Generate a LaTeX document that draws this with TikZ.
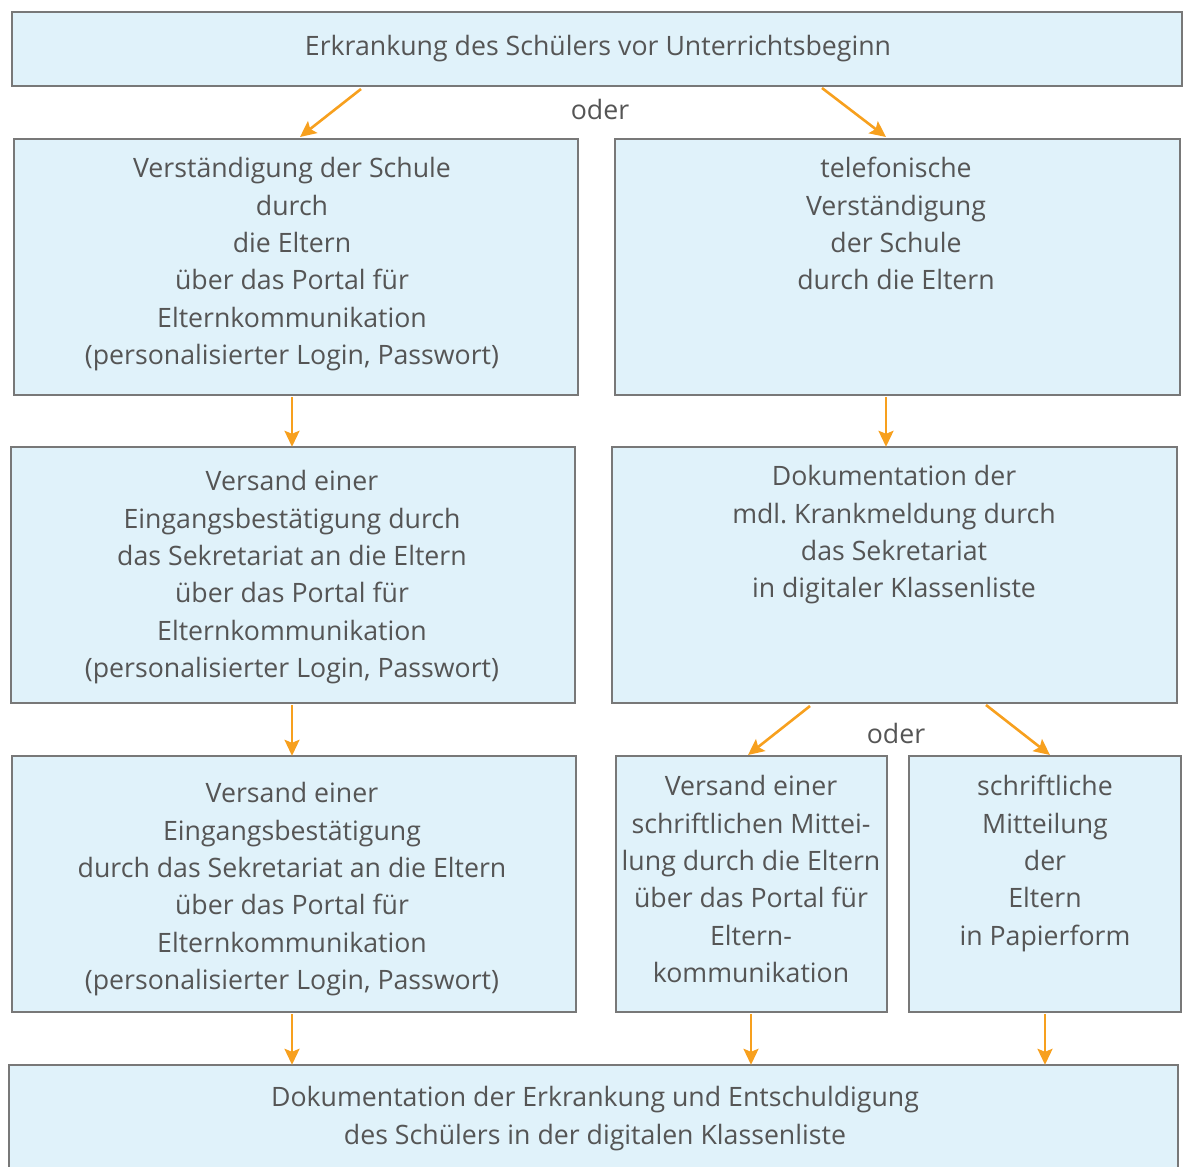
\documentclass[tikz,border=0pt]{standalone}
\usepackage{fontspec}
\setmainfont{Open Sans}
\usetikzlibrary{arrows.meta,calc}
\definecolor{boxfill}{RGB}{224,242,250}
\definecolor{boxline}{RGB}{120,120,120}
\definecolor{txtgray}{RGB}{85,85,85}
\definecolor{arrorange}{RGB}{247,160,30}
\frenchspacing
\begin{document}
\begin{tikzpicture}[x=1pt,y=-1pt,
  boxnode/.style={draw=boxline, fill=boxfill, line width=1.4pt, inner sep=0pt},
  txt/.style={anchor=north, align=center, inner sep=0pt, text=txtgray, font=\fontsize{26.7}{37.4}\selectfont},
  arr/.style={draw=arrorange, line width=2.6pt, -{Stealth[length=16pt,width=15pt,inset=3pt]}}]
\useasboundingbox (0,0) rectangle (1186,1167);
\clip (0,0) rectangle (1186,1167);
% boxes
\path[boxnode] (12,12) rectangle (1182,86);
\node[inner sep=0pt, minimum width=1170pt, minimum height=74pt] (top) at (597,49) {};
\path[boxnode] (14,139) rectangle (578,395);
\node[inner sep=0pt, minimum width=564pt, minimum height=256pt] (l1) at (296,267) {};
\path[boxnode] (615,139) rectangle (1180,395);
\node[inner sep=0pt, minimum width=565pt, minimum height=256pt] (r1) at (897.5,267) {};
\path[boxnode] (11,447) rectangle (575,703);
\node[inner sep=0pt, minimum width=564pt, minimum height=256pt] (l2) at (293,575) {};
\path[boxnode] (612,447) rectangle (1177,703);
\node[inner sep=0pt, minimum width=565pt, minimum height=256pt] (r2) at (894.5,575) {};
\path[boxnode] (12,756) rectangle (576,1012);
\node[inner sep=0pt, minimum width=564pt, minimum height=256pt] (l3) at (294,884) {};
\path[boxnode] (616,756) rectangle (887,1012);
\node[inner sep=0pt, minimum width=271pt, minimum height=256pt] (m3) at (751.5,884) {};
\path[boxnode] (909,756) rectangle (1181,1012);
\node[inner sep=0pt, minimum width=272pt, minimum height=256pt] (r3) at (1045,884) {};
\path[boxnode] (9,1065) rectangle (1178,1190);
\node[inner sep=0pt, minimum width=1169pt, minimum height=125pt] (bot) at (593.5,1127.5) {};
% texts
\node[txt] (ttop) at (598,47-17.6) {\strut Erkrankung des Schülers vor Unterrichtsbeginn};
\node[txt] (tl1) at (292,169-17.6) {\strut Verständigung der Schule\\durch\\die Eltern\\über das Portal für\\Elternkommunikation\\(personalisierter Login, Passwort)};
\node[txt] (tr1) at (896,169-17.6) {\strut telefonische\\Verständigung\\der Schule\\durch die Eltern};
\node[txt] (tl2) at (292,482-17.6) {\strut Versand einer\\Eingangsbestätigung durch\\das Sekretariat an die Eltern\\über das Portal für\\Elternkommunikation\\(personalisierter Login, Passwort)};
\node[txt] (tr2) at (894,477-17.6) {\strut Dokumentation der\\mdl. Krankmeldung durch\\das Sekretariat\\in digitaler Klassenliste};
\node[txt] (tl3) at (292,794-17.6) {\strut Versand einer\\Eingangsbestätigung\\durch das Sekretariat an die Eltern\\über das Portal für\\Elternkommunikation\\(personalisierter Login, Passwort)};
\node[txt] (tm3) at (751,787-17.6) {\strut Versand einer\\schriftlichen Mittei-\\lung durch die Eltern\\über das Portal für\\Eltern-\\kommunikation};
\node[txt] (tr3) at (1045,787-17.6) {\strut schriftliche\\Mitteilung\\der\\Eltern\\in Papierform};
\node[txt] (tbot) at (595,1098-17.6) {\strut Dokumentation der Erkrankung und Entschuldigung\\des Schülers in der digitalen Klassenliste};
\node[txt] (oder1) at (600,111-17.6) {\strut oder};
\node[txt] (oder2) at (896,735-17.6) {\strut oder};
% connector coordinates
\coordinate (s1) at (361,89);
\coordinate (e1) at (300,137);
\coordinate (s2) at (822,88);
\coordinate (e2) at (886,137);
\coordinate (s3) at (810,706);
\coordinate (e3) at (748,755);
\coordinate (s4) at (986,705);
\coordinate (e4) at (1050,755);
% arrows
\draw[arr] (s1) -- (e1);
\draw[arr] (s2) -- (e2);
\draw[arr] (l1.south -| 292,0) ++(0,2) -- (l2.north -| 292,0);
\draw[arr] (r1.south -| 886,0) ++(0,2) -- (r2.north -| 886,0);
\draw[arr] (l2.south -| 292,0) ++(0,2) -- (l3.north -| 292,0);
\draw[arr] (s3) -- (e3);
\draw[arr] (s4) -- (e4);
\draw[arr] (l3.south -| 292,0) ++(0,2) -- (bot.north -| 292,0);
\draw[arr] (m3.south -| 751,0) ++(0,2) -- (bot.north -| 751,0);
\draw[arr] (r3.south -| 1045,0) ++(0,2) -- (bot.north -| 1045,0);
\end{tikzpicture}
\end{document}
